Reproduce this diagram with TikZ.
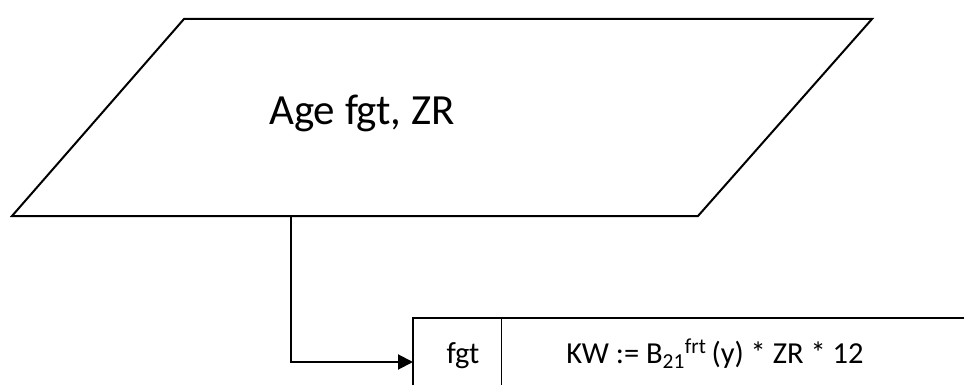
\documentclass[tikz,border=0pt]{standalone}
\usepackage{fontspec}
\setmainfont{Carlito}
\usetikzlibrary{arrows.meta}
\tikzset{
  shapeline/.style={line width=2pt, line join=miter},
  conn/.style={line width=2pt, -{Triangle[length=15pt,width=15pt]}},
  bigtext/.style={font=\fontsize{43}{50}\selectfont, inner sep=0pt, anchor=base},
  boxtext/.style={font=\fontsize{30.5}{36}\selectfont, inner sep=0pt, anchor=base},
}
\begin{document}
\begin{tikzpicture}[x=1pt,y=-1pt]
\useasboundingbox (0,0) rectangle (964,385);
\clip (0,0) rectangle (964,385);
% parallelogram
\coordinate (ptl) at (184,19);
\coordinate (ptr) at (872,19);
\coordinate (pbr) at (698,216);
\coordinate (pbl) at (12,216);
\draw[shapeline] (ptl) -- (ptr) -- (pbr) -- (pbl) -- cycle;
\node[bigtext] (intext) at (362,125) {Age fgt, ZR};
\coordinate (pout) at (291,216);
% box
\coordinate (btl) at (413,318);
\coordinate (btr) at (970,318);
\coordinate (bbl) at (413,392);
\coordinate (dtop) at (501,318);
\coordinate (dbot) at (501,392);
\draw[shapeline] (bbl) -- (btl) -- (btr);
\draw[line width=1pt] (dtop) -- (dbot);
\node[boxtext] (lab) at (463,363) {fgt};
\node[boxtext] (form) at (715,363) {KW := B\textsubscript{21}\textsuperscript{frt}\,(y) * ZR * 12};
\coordinate (bin) at (413,362);
% connector
\draw[conn] (pout) |- (bin);
\end{tikzpicture}
\end{document}
